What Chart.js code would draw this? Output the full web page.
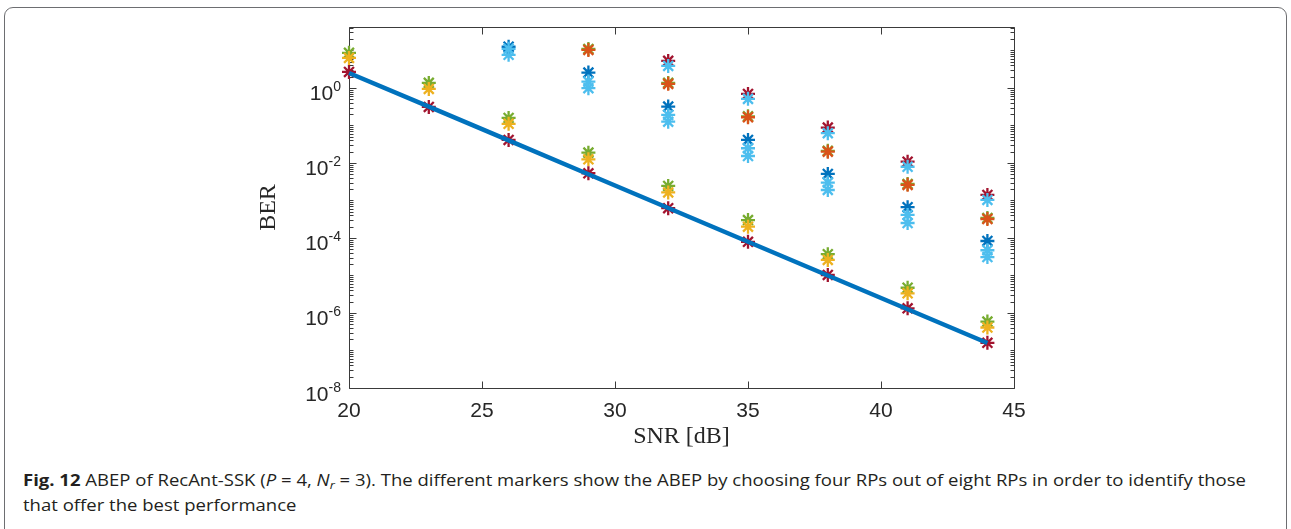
<!DOCTYPE html>
<html><head><meta charset="utf-8">
<script src="https://cdn.jsdelivr.net/npm/chart.js@4.4.1/dist/chart.umd.min.js"></script>
<style>
html,body{margin:0;padding:0;background:#fff;width:1291px;height:529px;overflow:hidden;}
#frame{position:absolute;left:4px;top:7px;width:1283px;height:560px;border:1.5px solid #6d6e71;border-radius:9px;box-sizing:border-box;}
#wrap{position:absolute;left:0;top:0;width:1291px;height:455px;}
#cap{position:absolute;left:23px;top:467px;font-family:"Open Sans","Noto Sans",sans-serif;font-size:16.5px;color:#231f20;line-height:25px;white-space:nowrap;transform-origin:0 0;}
#cap b{font-weight:700;}
#cap sub{font-size:70%;vertical-align:-3px;line-height:0;}
</style></head>
<body>
<div id="frame"></div>
<div id="wrap"><canvas id="c" width="1291" height="455"></canvas></div>
<div id="cap"><div id="l1"><b>Fig. 12</b> ABEP of RecAnt-SSK (<i>P</i> = 4, <i>N<sub>r</sub></i> = 3). The different markers show the ABEP by choosing four RPs out of eight RPs in order to identify those</div><div>that offer the best performance</div></div>
<script>
// ---- data ----
const snr = [20, 23, 26, 29, 32, 35, 38, 41, 44];
const theory = [2.5, 0.316, 0.0398, 0.0050, 6.3e-4, 7.9e-5, 1.0e-5, 1.26e-6, 1.58e-7];
const simRedA = [2.67, 0.31, 0.041, 0.0053, 6.2e-4, 7.9e-5, 1.03e-5, 1.33e-6, 1.6e-7];
const simGreenB = [8.6, 1.36, 0.158, 0.0188, 0.00244, 3.0e-4, 3.7e-5, 4.7e-6, 5.9e-7];
const simYellowB = [6.3, 0.94, 0.11, 0.0125, 0.00163, 2.0e-4, 2.6e-5, 3.35e-6, 4.1e-7];
const simBlueC = [null, null, 12.5, 2.56, 0.318, 0.041, 0.0051, 6.6e-4, 8.3e-5];
const simLightBlueC1 = [null, null, 11, 1.47, 0.19, 0.0246, 0.0030, 4.1e-4, 4.7e-5];
const simLightBlueC2 = [null, null, 7.6, 0.98, 0.126, 0.0153, 0.0019, 2.5e-4, 3.1e-5];
const simGreenD = [null, null, null, 10.9, 1.36, 0.175, 0.021, 0.00275, 3.4e-4];
const simOrangeD = [null, null, null, 10.3, 1.28, 0.165, 0.020, 0.0026, 3.2e-4];
const simRedE = [null, null, null, null, 5.25, 0.69, 0.0875, 0.0108, 0.0014];
const simLightBlueE = [null, null, null, null, 3.86, 0.51, 0.062, 0.0079, 0.00103];
const xTicks = [20, 25, 30, 35, 40, 45];
const yTickExps = [0, -2, -4, -6, -8];

const C = {blue:'#0072BD', orange:'#D95319', yellow:'#EDB120', purple:'#7E2F8E', green:'#77AC30', lblue:'#4DBEEE', red:'#A2142F'};
const pts = arr => snr.map((x,i)=>({x, y: arr[i]})).filter(p=>p.y!==null);
function sim(arr, color){
  return {data: pts(arr), showLine:false, pointStyle:'star', pointRadius:7, pointHoverRadius:7,
          borderColor: color, backgroundColor: color, pointBorderWidth:2.3, borderWidth:2.3, clip:false};
}
const datasets = [
  {data: pts(theory), showLine:true, borderColor:C.blue, borderWidth:4.5, pointRadius:0, fill:false, tension:0, clip:false},
  sim(simRedA, C.red),
  sim(simYellowB, C.yellow),
  sim(simGreenB, C.green),
  sim(simLightBlueC1, C.lblue),
  sim(simBlueC, C.blue),
  sim(simLightBlueC2, C.lblue),
  sim(simOrangeD, C.orange),
  sim(simGreenD, C.green),
  sim(simLightBlueE, C.lblue),
  sim(simRedE, C.red),
];

const axesPlugin = {
  id:'matlabAxes',
  beforeDatasetsDraw(chart){
    const {ctx, chartArea:a, scales:{x, y}} = chart;
    ctx.save();
    ctx.strokeStyle = '#3a3a3a'; ctx.lineWidth = 1;
    ctx.beginPath();
    const L = Math.round(a.left)+0.5, R = Math.round(a.right)+0.5, T = Math.round(a.top)+0.5, B = Math.round(a.bottom)+0.5;
    ctx.rect(L, T, R-L, B-T);
    xTicks.forEach(t=>{
      const px = Math.round(x.getPixelForValue(t))+0.5;
      ctx.moveTo(px, B); ctx.lineTo(px, B-7);
      ctx.moveTo(px, T); ctx.lineTo(px, T+7);
    });
    for (let e=-8; e<=1; e++){
      for (let m=1; m<=9; m++){
        const v = m*Math.pow(10,e);
        if (v < y.min*0.999 || v > y.max) continue;
        const major = (m===1 && e%2===0);
        const len = major ? 7 : 4;
        const py = Math.round(y.getPixelForValue(v))+0.5;
        ctx.moveTo(L, py); ctx.lineTo(L+len, py);
        ctx.moveTo(R, py); ctx.lineTo(R-len, py);
      }
    }
    ctx.stroke();
    ctx.restore();
  },
  afterDraw(chart){
    const {ctx, chartArea:a, scales:{x, y}} = chart;
    ctx.save();
    ctx.fillStyle = '#262626';
    const baseFont = '21px "Liberation Sans", Arial, sans-serif';
    const supFont = '14px "Liberation Sans", Arial, sans-serif';
    ctx.textBaseline = 'alphabetic';
    yTickExps.forEach(e=>{
      const py = y.getPixelForValue(Math.pow(10,e));
      const sup = String(e);
      ctx.font = supFont; const ws = ctx.measureText(sup).width;
      ctx.font = baseFont; const wb = ctx.measureText('10').width;
      const right = a.left - 8;
      ctx.textAlign = 'left';
      ctx.fillText('10', right - ws - wb, py + 12.5);
      ctx.font = supFont;
      ctx.fillText(sup, right - ws, py + 3.5);
    });
    ctx.font = baseFont; ctx.textAlign = 'center';
    xTicks.forEach(t=>{
      ctx.fillText(String(t), x.getPixelForValue(t), a.bottom + 29);
    });
    ctx.font = '24px "Liberation Serif", "Times New Roman", serif';
    ctx.fillText('SNR [dB]', (a.left+a.right)/2, a.bottom + 55);
    ctx.translate(a.left - 74, (a.top+a.bottom)/2);
    ctx.rotate(-Math.PI/2);
    ctx.fillText('BER', 0, 0);
    ctx.restore();
  }
};

new Chart(document.getElementById('c'), {
  type:'scatter',
  data:{datasets},
  options:{
    responsive:false, animation:false, devicePixelRatio:1,
    layout:{padding:{left:0, top:27, right:277, bottom:0}},
    plugins:{legend:{display:false}, tooltip:{enabled:false}},
    scales:{
      x:{type:'linear', min:20, max:45, grid:{display:false}, border:{display:false}, ticks:{display:false},
         afterFit(s){ s.height = 455 - 388; }},
      y:{type:'logarithmic', min:1e-8, max:42, grid:{display:false}, border:{display:false}, ticks:{display:false},
         afterFit(s){ s.width = 349; }}
    }
  },
  plugins:[axesPlugin]
});

// fit caption width to the reference line length
const l1 = document.getElementById('l1');
const w = l1.getBoundingClientRect().width;
document.getElementById('cap').style.transform = 'scaleX(' + (1223 / w) + ')';
</script>
</body></html>
